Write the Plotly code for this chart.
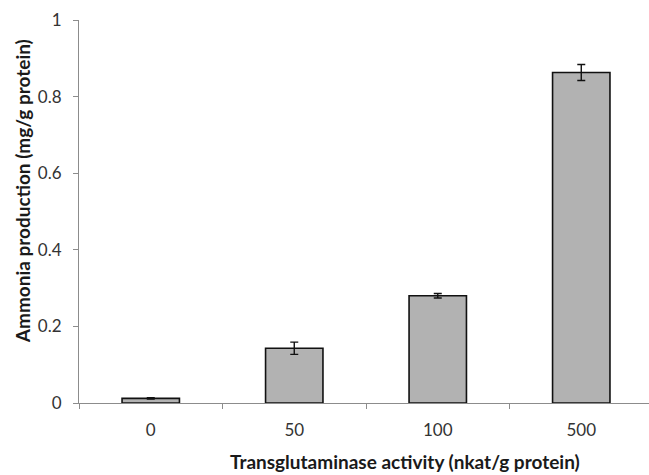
import plotly.graph_objects as go

categories = ["0", "50", "100", "500"]
ammonia = [0.012, 0.143, 0.280, 0.863]
errors = [0.002, 0.016, 0.006, 0.021]
y_ticks = [0, 0.2, 0.4, 0.6, 0.8, 1]
y_tick_labels = ["0", "0.2", "0.4", "0.6", "0.8", "1"]

FONT = "Lato"
AXIS_GRAY = "#8c8c8c"

fig = go.Figure()
fig.add_trace(go.Bar(
    x=categories,
    y=ammonia,
    width=0.4,
    marker=dict(color="#b2b2b2", line=dict(color="#111111", width=1.6)),
    error_y=dict(type="data", array=errors, visible=True,
                 color="#111111", thickness=1.4, width=4),
))

fig.update_layout(
    width=649, height=475,
    margin=dict(l=79, r=0, t=20, b=72),
    paper_bgcolor="white", plot_bgcolor="white",
    showlegend=False,
    font=dict(family=FONT, size=16, color="#404040"),
    bargap=0.6,
)
fig.update_xaxes(
    type="category",
    range=[-0.5, 3.472],
    showline=True, linecolor=AXIS_GRAY, linewidth=1,
    ticks="outside", tickson="boundaries", ticklen=5, tickcolor=AXIS_GRAY,
    showgrid=False, zeroline=False,
    tickfont=dict(family=FONT, size=17, color="#333333"),
    ticklabelstandoff=12,
)
fig.update_yaxes(
    range=[0, 1],
    tickvals=y_ticks, ticktext=y_tick_labels,
    showline=True, linecolor=AXIS_GRAY, linewidth=1,
    ticks="outside", ticklen=5, tickcolor=AXIS_GRAY,
    showgrid=False, zeroline=False,
    tickfont=dict(family=FONT, size=17, color="#333333"),
    ticklabelstandoff=8,
)
fig.add_annotation(
    text="<b>Transglutaminase activity (nkat/g protein)</b>",
    xref="paper", yref="paper", x=0.572, y=-0.152,
    xanchor="center", yanchor="middle", showarrow=False,
    font=dict(family=FONT, size=19, color="#1a1a1a"),
)
fig.add_annotation(
    text="<b>Ammonia production (mg/g protein)</b>",
    xref="paper", yref="paper", x=-0.1, y=0.553,
    xanchor="center", yanchor="middle", showarrow=False, textangle=-90,
    font=dict(family=FONT, size=19, color="#1a1a1a"),
)

fig.write_html("out.html")
